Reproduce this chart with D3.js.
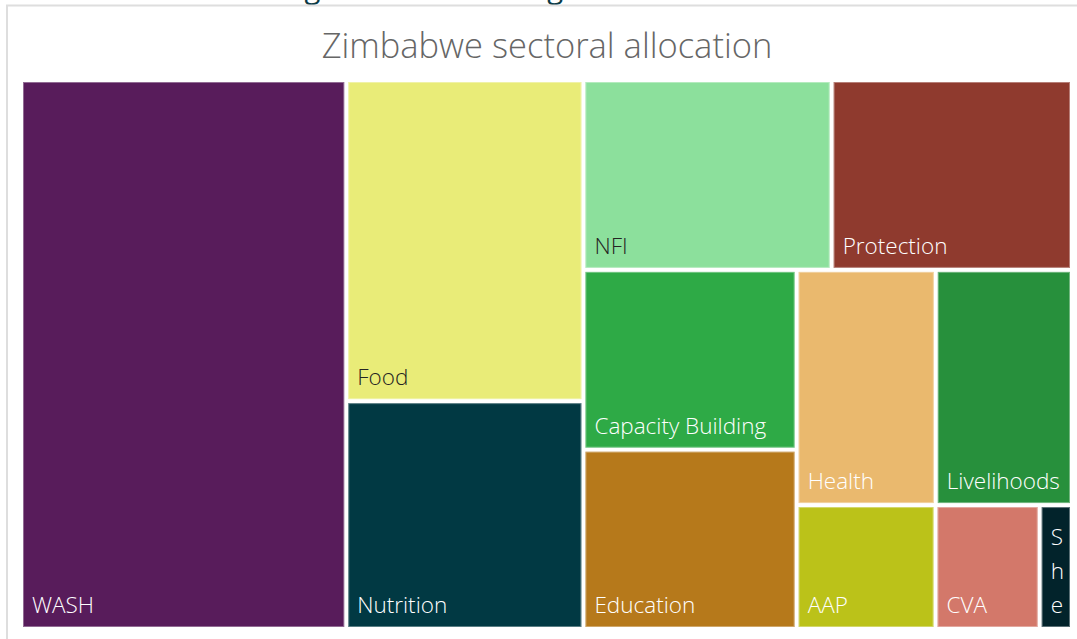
<!DOCTYPE html>
<html>
<head>
<meta charset="utf-8">
<script src="https://cdn.jsdelivr.net/npm/d3@7"></script>
<style>
  html, body { margin: 0; padding: 0; background: #fff; }
  svg { display: block; font-family: "Open Sans", "Segoe UI", sans-serif; }
</style>
</head>
<body>
<svg id="chart" width="1077" height="639"></svg>
<script>
// Zimbabwe sectoral allocation, flat treemap (squarified, ratio 1)

const sectors = ['WASH', 'Food', 'Nutrition', 'NFI', 'Protection', 'Capacity Building',
  'Education', 'Health', 'Livelihoods', 'AAP', 'CVA', 'Shelter'];
const allocations = [178.4, 76.1, 54.0, 47.1, 45.6, 38.3, 38.2, 32.7, 32.0, 17.2, 12.9, 4.0];
const sectorColors = ['#581C5B', '#E9EC78', '#013943', '#8CE09C', '#8F3A2E', '#2EAA46',
  '#B6791B', '#EAB96E', '#27903C', '#BBC219', '#D3786A', '#02232B'];

const W = 1077, H = 639;
const MARGIN = { top: 82, right: 7, bottom: 12, left: 23 };

const svg = d3.select('#chart');

// Text of the visual above, mostly cut off by the page edge (as in the reference)
svg.append('text')
  .attr('x', 122)
  .attr('y', -2)
  .attr('font-size', 29.2)
  .attr('fill', '#0B3B47')
  .text('Sector funding versus total budget');

// Visual frame (extends past the window on the right and bottom)
svg.append('rect')
  .attr('x', 7).attr('y', 5.5)
  .attr('width', 1200).attr('height', 800)
  .attr('fill', 'none')
  .attr('stroke', '#DEDEDE')
  .attr('stroke-width', 2);

// Title
svg.append('text')
  .attr('x', 547)
  .attr('y', 58)
  .attr('text-anchor', 'middle')
  .attr('font-size', 34.5)
  .attr('font-weight', 300)
  .attr('fill', '#666666')
  .text('Zimbabwe sectoral allocation');

const table = sectors.map((name, i) => ({ name, value: allocations[i], color: sectorColors[i] }));

const root = d3.hierarchy({ children: table })
  .sum(d => d.value || 0)
  .sort((a, b) => b.value - a.value);

d3.treemap()
  .tile(d3.treemapSquarify.ratio(1))
  .size([W - MARGIN.left - MARGIN.right, H - MARGIN.top - MARGIN.bottom])
  .paddingInner(4)
  .round(false)(root);

const g = svg.append('g').attr('transform', `translate(${MARGIN.left},${MARGIN.top})`);

const cells = g.selectAll('g.cell')
  .data(root.leaves())
  .join('g')
  .attr('class', 'cell')
  .attr('transform', d => `translate(${d.x0},${d.y0})`);

cells.append('rect')
  .attr('width', d => d.x1 - d.x0)
  .attr('height', d => d.y1 - d.y0)
  .attr('fill', d => d.data.color);

// faint light edge round each tile
cells.append('rect')
  .attr('x', 0.5).attr('y', 0.5)
  .attr('width', d => d.x1 - d.x0 - 1)
  .attr('height', d => d.y1 - d.y0 - 1)
  .attr('fill', 'none')
  .attr('stroke', '#fff')
  .attr('stroke-opacity', 0.35)
  .attr('stroke-width', 1);

const FS = 22.5, LINE = 34, PADX = 9, PADB = 14;

cells.each(function (d) {
  const cell = d3.select(this);
  const w = d.x1 - d.x0, h = d.y1 - d.y0;
  const light = d3.lab(d.data.color).l > 80;
  const label = cell.append('text')
    .attr('font-size', FS)
    .attr('font-weight', 300)
    .attr('fill', light ? '#252423' : '#fff');

  const probe = label.append('tspan').text(d.data.name);
  const fits = probe.node().getComputedTextLength() <= w - PADX * 2;
  probe.remove();

  // too narrow: wrap one character per line, keep what fits in height
  let lines = fits ? [d.data.name] : d.data.name.split('');
  const maxLines = Math.max(1, Math.floor((h - PADB) / LINE));
  lines = lines.slice(0, maxLines);

  label.selectAll('tspan')
    .data(lines)
    .join('tspan')
    .attr('x', PADX)
    .attr('y', (_, i) => h - PADB - (lines.length - 1 - i) * LINE)
    .text(t => t);
});
</script>
</body>
</html>
